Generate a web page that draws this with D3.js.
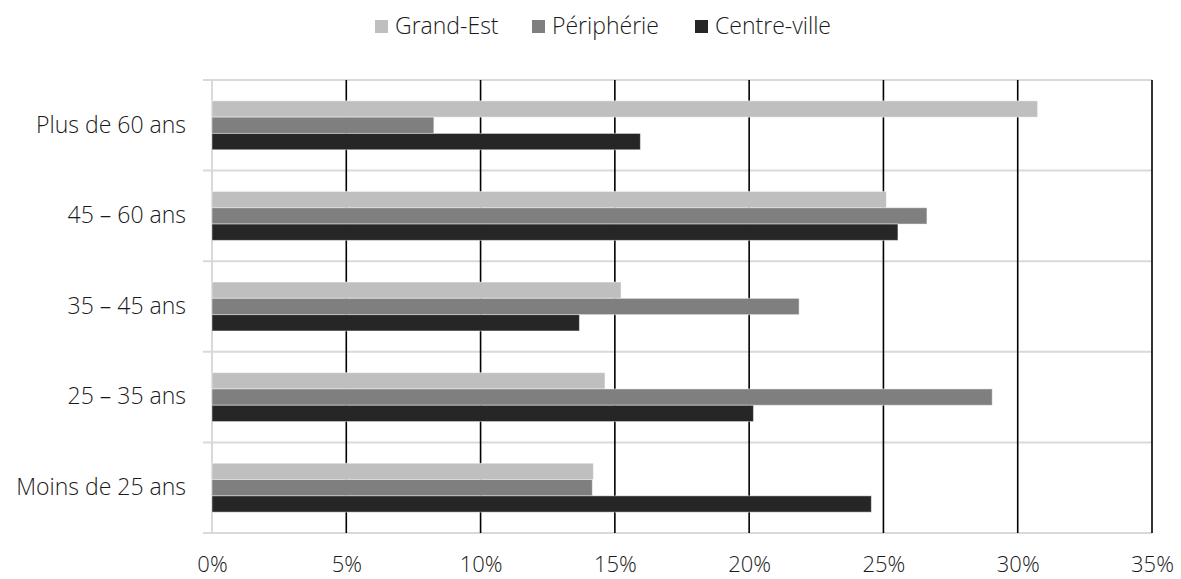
<!DOCTYPE html>
<html>
<head>
<meta charset="utf-8">
<script src="https://cdn.jsdelivr.net/npm/d3@7"></script>
<style>
  html, body { margin: 0; padding: 0; background: #fff; }
  svg { display: block; font-family: "Open Sans", sans-serif; font-weight: 300; }
</style>
</head>
<body>
<svg id="chart" width="1181" height="579"></svg>
<script>
const categories = ["Plus de 60 ans", "45 – 60 ans", "35 – 45 ans", "25 – 35 ans", "Moins de 25 ans"];
const seriesNames = ["Grand-Est", "Périphérie", "Centre-ville"];
const grandEst    = [0.3074, 0.2511, 0.1523, 0.1463, 0.1420];
const peripherie  = [0.0826, 0.2662, 0.2186, 0.2905, 0.1416];
const centreVille = [0.1595, 0.2554, 0.1368, 0.2016, 0.2455];
const tickValues  = [0, 0.05, 0.10, 0.15, 0.20, 0.25, 0.30, 0.35];
const tickLabels  = ["0%", "5%", "10%", "15%", "20%", "25%", "30%", "35%"];
const colors = ["#bfbfbf", "#7f7f7f", "#262626"];

const seriesValues = [grandEst, peripherie, centreVille];
const svg = d3.select("#chart");
const textColor = "#1a1a1a";

const plot = { left: 212, right: 1152, top: 80, bottom: 533 };

const x = d3.scaleLinear().domain([0, 0.35]).range([plot.left, plot.right]);
const y = d3.scaleBand().domain(categories).range([plot.top, plot.bottom]).padding(0);
const groupPad = y.step() * 0.23;
const yInner = d3.scaleBand().domain(seriesNames).range([groupPad, y.bandwidth() - groupPad]).padding(0);

// horizontal separators (category boundaries)
const bounds = categories.map(c => y(c)).concat([plot.bottom]);
svg.append("g").selectAll("line").data(bounds).join("line")
  .attr("x1", plot.left - 9).attr("x2", plot.right)
  .attr("y1", d => d).attr("y2", d => d)
  .attr("stroke", "#d9d9d9").attr("stroke-width", 2);

// vertical axis line (0%)
svg.append("line")
  .attr("x1", x(0)).attr("x2", x(0))
  .attr("y1", plot.top).attr("y2", plot.bottom)
  .attr("stroke", "#d9d9d9").attr("stroke-width", 2);

// vertical gridlines
svg.append("g").selectAll("line").data(tickValues.filter(v => v > 0)).join("line")
  .attr("x1", d => x(d)).attr("x2", d => x(d))
  .attr("y1", plot.top).attr("y2", plot.bottom)
  .attr("stroke", "#000").attr("stroke-width", 1.6);

// bars
const rows = [];
categories.forEach((c, i) => {
  seriesNames.forEach((s, j) => rows.push({ c, s, v: seriesValues[j][i], color: colors[j] }));
});
svg.append("g").selectAll("rect").data(rows).join("rect")
  .attr("x", x(0))
  .attr("y", d => y(d.c) + yInner(d.s))
  .attr("width", d => x(d.v) - x(0))
  .attr("height", yInner.bandwidth())
  .attr("fill", d => d.color)
  .attr("stroke", "#fff").attr("stroke-opacity", 0.45).attr("stroke-width", 1);

// x axis labels
const xAxis = d3.axisBottom(x).tickValues(tickValues)
  .tickFormat((d, i) => tickLabels[i]).tickSize(0).tickPadding(0);
const gx = svg.append("g").attr("transform", `translate(0, 572)`).call(xAxis);
gx.select(".domain").remove();
gx.selectAll("text").attr("font-size", 22).attr("fill", textColor)
  .attr("font-family", "'Open Sans', sans-serif").attr("font-weight", 300).attr("dy", "0");

// y axis labels
const yAxis = d3.axisLeft(y).tickSize(0).tickPadding(0);
const gy = svg.append("g").attr("transform", `translate(186, 0)`).call(yAxis);
gy.select(".domain").remove();
gy.selectAll("text").attr("font-size", 23).attr("fill", textColor)
  .attr("font-family", "'Open Sans', sans-serif").attr("font-weight", 300);

// legend
const legendX = [375, 532, 695];
const lg = svg.append("g").selectAll("g").data(seriesNames).join("g")
  .attr("transform", (d, i) => `translate(${legendX[i]}, 20)`);
lg.append("rect").attr("width", 13).attr("height", 13).attr("fill", (d, i) => colors[i]);
lg.append("text").attr("x", 20).attr("y", 13.5).attr("font-size", 23).attr("fill", textColor)
  .attr("font-weight", 300).text(d => d);
</script>
</body>
</html>
